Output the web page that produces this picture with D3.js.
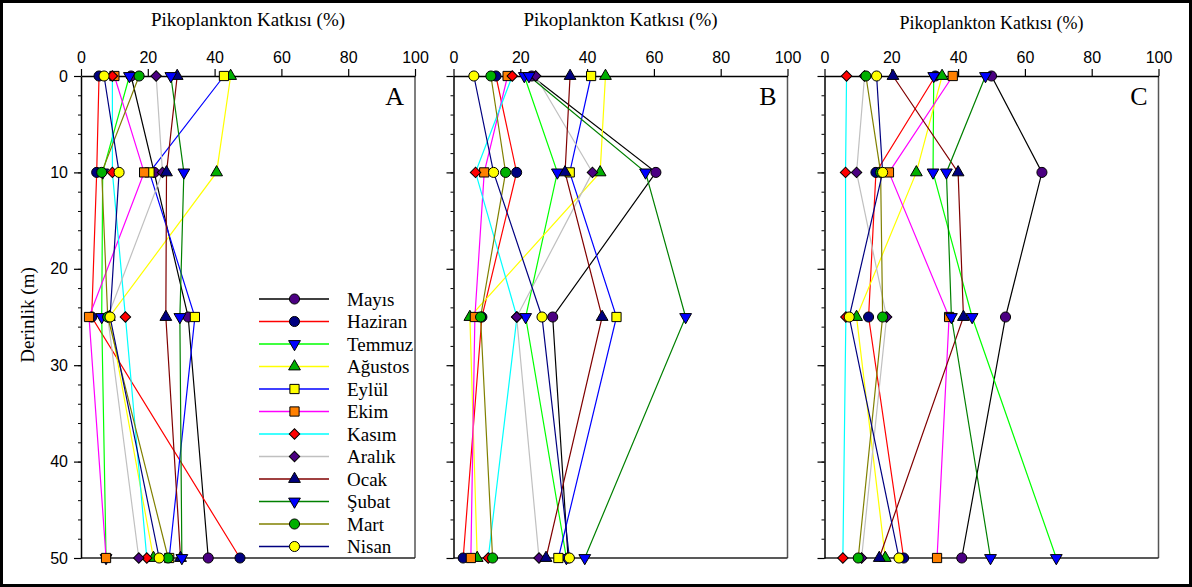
<!DOCTYPE html>
<html>
<head>
<meta charset="utf-8">
<script src="https://cdn.jsdelivr.net/npm/d3@7"></script>
<style>
  body { margin: 0; background: #fff; }
  svg { display: block; font-family: "Liberation Serif", "Times New Roman", serif; }
</style>
</head>
<body>
<svg id="chart" width="1192" height="587"></svg>
<script>
const months = ["Mayıs", "Haziran", "Temmuz", "Ağustos", "Eylül", "Ekim", "Kasım", "Aralık", "Ocak", "Şubat", "Mart", "Nisan"];
const depths = [0, 10, 25, 50];
const xTicks = [0, 20, 40, 60, 80, 100];
const yTicks = [0, 10, 20, 30, 40, 50];
const panelLabels = ["A", "B", "C"];

// one row per month, values at 0, 10, 25, 50 m
const valuesA = [
  [15.0, 21.9, 32.1, 38.1],
  [5.4, 4.7, 3.2, 47.6],
  [14.5, 6.5, 6.2, 7.5],
  [44.8, 40.6, 8.5, 21.7],
  [42.8, 20.5, 34.1, 26.4],
  [10.0, 18.9, 2.4, 7.5],
  [9.4, 9.4, 13.3, 19.7],
  [22.5, 24.4, 8.0, 17.3],
  [28.8, 25.6, 25.4, 29.8],
  [26.9, 30.8, 29.6, 30.2],
  [17.4, 6.2, 8.0, 26.1],
  [6.9, 11.4, 8.7, 23.4]
];
const valuesB = [
  [23.4, 60.6, 29.7, 34.3],
  [12.7, 18.9, 8.5, 2.9],
  [21.2, 31.1, 21.6, 33.8],
  [45.5, 43.9, 4.9, 7.1],
  [41.2, 34.8, 48.8, 31.4],
  [16.2, 9.2, 6.4, 5.2],
  [17.6, 6.6, 19.0, 10.4],
  [24.6, 41.6, 18.9, 25.6],
  [34.9, 33.4, 44.5, 27.7],
  [22.6, 57.5, 69.5, 39.3],
  [11.2, 15.6, 8.1, 11.7],
  [6.1, 12.0, 26.5, 34.7]
];
const valuesC = [
  [50.0, 65.1, 54.2, 41.1],
  [33.2, 15.4, 13.2, 23.7],
  [32.7, 32.5, 44.2, 69.4],
  [35.2, 27.5, 9.6, 18.2],
  [null, null, null, null],
  [38.4, 19.3, 37.3, 33.7],
  [6.6, 6.3, 6.4, 5.5],
  [12.0, 9.6, 18.6, 11.1],
  [20.5, 40.0, 41.6, 16.4],
  [48.2, 36.5, 38.0, 49.7],
  [12.4, 16.8, 17.4, 10.1],
  [15.6, 17.4, 7.4, 22.3]
];

// styling per month
const lineColors = ["#000000", "#ff0000", "#00ff00", "#ffff00", "#0000ff", "#ff00ff", "#00ffff", "#c0c0c0", "#800000", "#008000", "#808000", "#000080"];
const markFills = ["#4b0082", "#000080", "#0000ff", "#00b000", "#ffff00", "#ff8000", "#ff0000", "#4b0082", "#000080", "#0000ff", "#00b000", "#ffff00"];
const markShapes = ["circle", "circle", "down", "up", "square", "square", "diamond", "diamond", "up", "down", "circle", "circle"];

const svg = d3.select("#chart");
const W = 1192, H = 587;

svg.append("rect").attr("x", 1.5).attr("y", 1.5).attr("width", W - 3).attr("height", H - 3)
  .attr("fill", "none").attr("stroke", "#000").attr("stroke-width", 3);

const panelX = [81, 453.5, 824.5];
const plotW = 334;
const y = d3.scaleLinear().domain([0, 50]).range([76, 558]);

function markerPath(shape) {
  if (shape === "circle") return d3.symbol(d3.symbolCircle, 80)();
  if (shape === "square") return d3.symbol(d3.symbolSquare, 85)();
  if (shape === "diamond") return d3.symbol(d3.symbolSquare, 55)();
  return d3.symbol(d3.symbolTriangle, 60)();
}
function markerTransform(shape, px, py) {
  if (shape === "diamond") return `translate(${px},${py}) rotate(45)`;
  if (shape === "down") return `translate(${px},${py}) rotate(180)`;
  return `translate(${px},${py})`;
}

const allValues = [valuesA, valuesB, valuesC];

allValues.forEach((vals, p) => {
  const x0 = panelX[p];
  const x = d3.scaleLinear().domain([0, 100]).range([x0, x0 + plotW]);
  const g = svg.append("g");

  // title
  g.append("text")
    .attr("x", x0 + plotW / 2).attr("y", p === 2 ? 23 : 19)
    .attr("text-anchor", "middle").attr("dominant-baseline", "central")
    .style("font-size", p === 2 ? "18px" : "19px")
    .text("Pikoplankton Katkısı (%)");

  // frame right + bottom
  g.append("line").attr("x1", x(100)).attr("x2", x(100)).attr("y1", y(0)).attr("y2", y(50))
    .attr("stroke", "#555").attr("stroke-width", 1.5);
  g.append("line").attr("x1", x(0)).attr("x2", x(100)).attr("y1", y(50)).attr("y2", y(50))
    .attr("stroke", "#222").attr("stroke-width", 1.5);

  // minor y ticks
  g.append("g").attr("transform", `translate(${x0},0)`)
    .call(d3.axisLeft(y).tickValues(d3.range(0, 51, 2)).tickSize(3).tickFormat(""))
    .call(a => a.select(".domain").remove())
    .selectAll("line").attr("stroke", "#000");

  // y axis
  const ya = g.append("g").attr("transform", `translate(${x0},0)`)
    .call(d3.axisLeft(y).tickValues(yTicks).tickSize(7).tickSizeOuter(0).tickPadding(6)
      .tickFormat(p === 0 ? d3.format("d") : ""));
  ya.select(".domain").attr("stroke", "#000").attr("stroke-width", 1.5);
  ya.selectAll("line").attr("stroke-width", 1.2);
  ya.selectAll("text").style("font-size", "16px").attr("font-family", null).attr("fill", "#000");

  // x axis on top
  const xa = g.append("g").attr("transform", `translate(0,${y(0)})`)
    .call(d3.axisTop(x).tickValues(xTicks).tickSize(7).tickSizeOuter(0).tickPadding(6));
  xa.select(".domain").attr("stroke", "#000").attr("stroke-width", 1.5);
  xa.selectAll("line").attr("stroke-width", 1.2);
  xa.selectAll("text").style("font-size", "16px").attr("font-family", null).attr("fill", "#000");

  // panel letter
  g.append("text").attr("x", x(100) - 11).attr("y", 105)
    .attr("text-anchor", "end").style("font-size", "26px").text(panelLabels[p]);

  // lines
  vals.forEach((row, i) => {
    const pts = row.map((v, k) => [v, depths[k]]).filter(d => d[0] != null);
    if (!pts.length) return;
    g.append("path")
      .attr("d", d3.line().x(d => x(d[0])).y(d => y(d[1]))(pts))
      .attr("fill", "none").attr("stroke", lineColors[i]).attr("stroke-width", 1.2);
  });

  // markers
  vals.forEach((row, i) => {
    row.forEach((v, k) => {
      if (v == null) return;
      g.append("path")
        .attr("d", markerPath(markShapes[i]))
        .attr("transform", markerTransform(markShapes[i], x(v), y(depths[k])))
        .attr("fill", markFills[i]).attr("stroke", "#000").attr("stroke-width", 1);
    });
  });
});

// y axis title
svg.append("text")
  .attr("transform", "translate(27,315) rotate(-90)")
  .attr("text-anchor", "middle").attr("dominant-baseline", "central")
  .style("font-size", "19px").text("Derinlik (m)");

// legend inside panel A
const legend = svg.append("g");
months.forEach((m, i) => {
  const ly = 299 + i * 22.5;
  legend.append("line").attr("x1", 259).attr("x2", 329).attr("y1", ly).attr("y2", ly)
    .attr("stroke", lineColors[i]).attr("stroke-width", 1.5);
  legend.append("path").attr("d", markerPath(markShapes[i]))
    .attr("transform", markerTransform(markShapes[i], 294.5, ly))
    .attr("fill", markFills[i]).attr("stroke", "#000").attr("stroke-width", 1);
  legend.append("text").attr("x", 347).attr("y", ly)
    .attr("dominant-baseline", "central").style("font-size", "19px").text(m);
});
</script>
</body>
</html>
